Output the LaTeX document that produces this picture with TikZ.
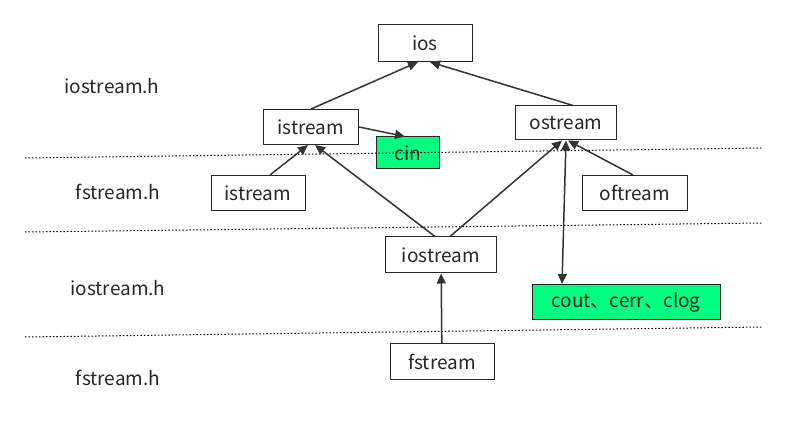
\documentclass[tikz,border=0pt]{standalone}
\usepackage{fontspec}
\setmainfont{Noto Sans CJK SC}
\usetikzlibrary{arrows.meta}
\begin{document}
\begin{tikzpicture}[x=1pt,y=-1pt,
  box/.style={draw=black!85,line width=1pt,fill=white,minimum height=35pt,inner sep=0pt,font=\fontsize{19}{22}\selectfont,text=black!85},
  gbox/.style={box,fill={rgb,255:red,0;green,255;blue,128}},
  lab/.style={font=\fontsize{19}{22}\selectfont,text=black!85},
  arr/.style={draw=black!80,line width=1.5pt,-{Triangle[length=10pt,width=9pt]}},
  dot/.style={draw=black,line width=1pt,dash pattern=on 1.5pt off 2pt}]
\useasboundingbox (0,0) rectangle (788,422);
\node[lab] (l1) at (112,86) {iostream.h};
\node[lab] (l2) at (118,192) {fstream.h};
\node[lab] (l3) at (118,288) {iostream.h};
\node[lab] (l4) at (118,378) {fstream.h};
\node[box,minimum width=94pt,minimum height=37pt] (ios) at (425,43) {ios};
\node[box,minimum width=95pt] (is) at (311,127) {istream};
\node[gbox,minimum width=63pt,minimum height=32pt] (cin) at (408,153) {cin};
\node[box,minimum width=101pt,minimum height=34pt] (os) at (566,123) {ostream};
\node[box,minimum width=94pt] (is2) at (258,193) {istream};
\node[box,minimum width=105pt] (of) at (635,193) {oftream};
\node[box,minimum width=111pt,minimum height=36pt] (ios2) at (441,255) {iostream};
\node[gbox,minimum width=188pt] (cout) at (626,302) {cout、cerr、clog};
\node[box,minimum width=104pt,minimum height=36pt] (fs) at (442,362) {fstream};
\coordinate (d1a) at (25,158); \coordinate (d1b) at (762,148);
\coordinate (d2a) at (25,232); \coordinate (d2b) at (762,223);
\coordinate (d3a) at (25,337); \coordinate (d3b) at (762,327);
\draw[dot] (d1a)--(d1b); \draw[dot] (d2a)--(d2b); \draw[dot] (d3a)--(d3b);
\draw[arr] (is.north) -- ([xshift=-7pt]ios.south);
\draw[arr] ([xshift=7pt]os.north) -- ([xshift=5pt]ios.south);
\draw[arr] (is.east) -- ([xshift=-3pt]cin.north);
\draw[arr] ([xshift=12pt]is2.north) -- ([xshift=-3pt]is.south);
\draw[arr] ([xshift=-6pt]ios2.north) -- ([xshift=4pt]is.south);
\draw[arr] ([xshift=9pt]ios2.north) -- ([xshift=-4pt]os.south);
\draw[arr] ([xshift=-2pt]of.north) -- ([xshift=2pt]os.south);
\draw[arr,{Triangle[length=10pt,width=9pt]}-{Triangle[length=10pt,width=9pt]}] ([xshift=-64pt]cout.north) -- (os.south);
\draw[arr] (fs) -- (ios2);
\end{tikzpicture}
\end{document}
